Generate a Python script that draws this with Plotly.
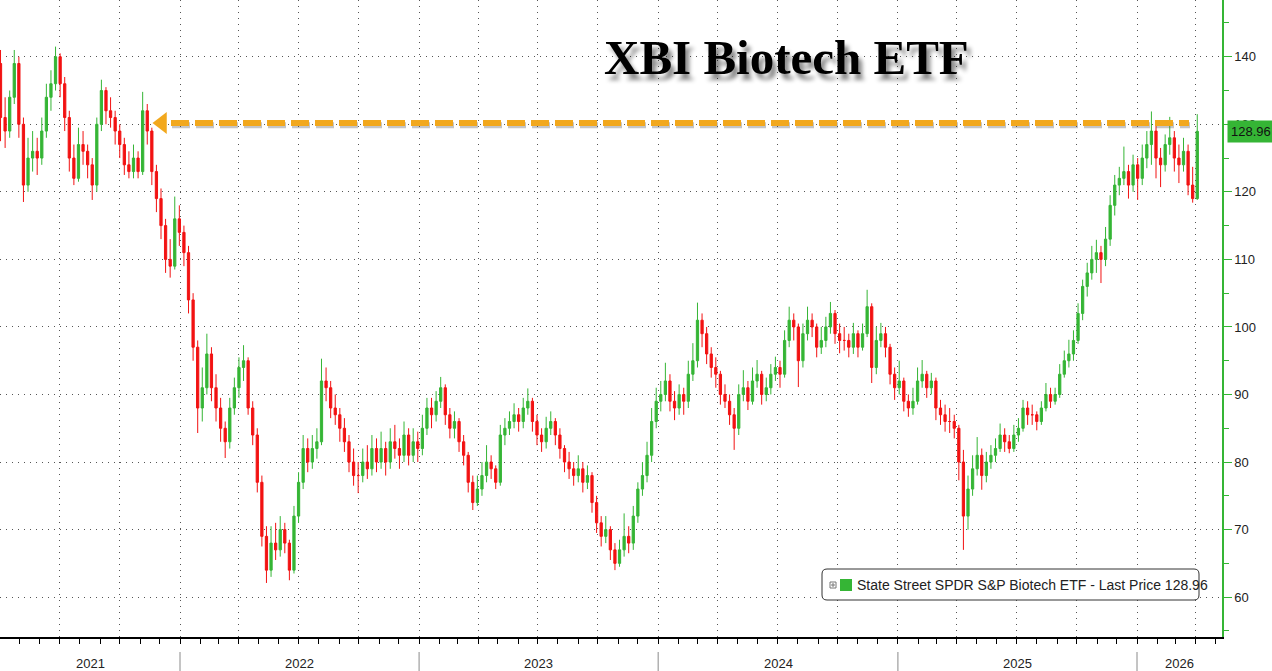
import pandas as pd
import plotly.graph_objects as go

# weekly OHLC (week bars from Apr 2021 to Apr 2026)
opens = [
    139, 131, 129, 134, 139, 130, 121, 125, 126, 125,
    129, 134, 136, 140, 136, 131, 125, 122, 127, 126,
    124, 121, 130, 135, 132, 131, 129, 127, 124, 123,
    125, 123, 132, 129, 123, 119, 115, 110, 109, 116,
    114, 111, 104, 97, 88, 91, 96, 91, 88, 85,
    83, 88, 91, 94, 95, 88, 84, 77, 69, 64,
    68, 67, 70, 68, 64, 72, 77, 82, 80, 82,
    83, 92, 91, 88, 87, 85, 83, 80, 78, 78,
    80, 79, 82, 80, 82, 80, 83, 82, 81, 84,
    81, 83, 82, 85, 88, 87, 89, 91, 87, 85,
    86, 83, 81, 77, 74, 76, 78, 80, 79, 77,
    84, 85, 86, 87, 86, 88, 89, 86, 84, 83,
    85, 86, 84, 82, 80, 79, 78, 79, 77, 78,
    74, 71, 69, 70, 67, 65, 67, 69, 68, 72,
    76, 78, 81, 86, 89, 90, 92, 89, 88, 90,
    89, 93, 95, 101, 99, 96, 94, 93, 90, 89,
    87, 85, 90, 91, 89, 92, 93, 90, 91, 93,
    94, 93, 98, 101, 100, 95, 99, 101, 100, 97,
    98, 100, 102, 99, 98, 98, 97, 99, 97, 99,
    103, 94, 98, 99, 97, 93, 91, 92, 89, 88,
    89, 92, 93, 91, 92, 88, 87, 86, 86, 85,
    80, 72, 76, 79, 81, 78, 80, 81, 82, 84,
    83, 82, 84, 85, 88, 87, 87, 86, 88, 90,
    89, 90, 93, 95, 96, 98, 102, 106, 108, 110,
    111, 110, 113, 118, 121, 122, 123, 121, 124, 122,
    125, 127, 129, 125, 124, 127, 128, 125, 124, 126,
    121, 119,
]
highs = [
    141, 134, 135, 141, 140, 131, 128, 129, 128, 131,
    136, 138, 141.5, 140.5, 137, 132, 127, 129.5, 129, 127,
    125, 131, 136.6, 135.5, 134, 132, 130, 128, 126, 127,
    126, 134.8, 133, 129.5, 124, 120.5, 116, 113, 119.3, 118,
    115, 112, 105, 98, 94, 99, 97, 93, 89.5, 86,
    89.5, 92.5, 95.5, 97.3, 95.5, 89, 85, 78, 70.5, 70.5,
    71, 72, 71, 68.5, 73.5, 78.5, 84, 83.5, 84, 85,
    95.3, 94, 92, 90, 88, 86.5, 84, 82, 80, 82,
    82.5, 84, 83.5, 84.5, 83, 85, 85.5, 83.5, 86, 85,
    85, 84.5, 87, 89.5, 89.5, 90.5, 92.6, 91.5, 88, 87.5,
    86.5, 84, 81.5, 78, 78, 80, 82.5, 81, 79.5, 85.5,
    86.5, 87.5, 88.7, 88, 89.5, 90.9, 89.5, 87, 85, 86.7,
    87.5, 86.5, 85, 82.5, 81.5, 80, 81, 80, 79.5, 78.5,
    75, 72, 72, 70.5, 68, 68.5, 72.4, 70.5, 73.5, 77,
    80, 83, 88, 91, 92, 94.7, 93, 90.5, 91.5, 91,
    95, 97.6, 103.6, 102, 100, 97, 95.5, 93.5, 91.5, 90,
    88, 91.5, 93.6, 92, 94, 95.1, 93.5, 92.5, 94.5, 95.6,
    95, 99.5, 103, 102, 100.5, 100.5, 103, 102, 100.5, 100,
    101.5, 103.7, 102.5, 100.5, 100, 99, 100.6, 99.5, 100.5, 105.5,
    103.5, 100, 100.6, 100, 97.5, 94, 95, 92.5, 90, 91,
    94, 95.1, 93.5, 93.2, 92.5, 89.2, 88.5, 88, 87, 85.5,
    81.8, 78, 81, 83.7, 82, 81.5, 82.5, 83.5, 85.7, 85,
    84, 85.5, 86.5, 89.2, 89, 88.5, 87.5, 89, 91.7, 91,
    91, 94.5, 96.5, 98.1, 99.5, 103.5, 107, 109.5, 112, 112.9,
    112, 114.8, 119.5, 122.5, 123.7, 126.7, 124, 125.5, 125, 127,
    129, 131.9, 130, 126.5, 128.5, 131.1, 129, 127, 128, 127,
    123.7, 131.5,
]
lows = [
    127.5, 126.5, 128, 133, 128, 118.5, 120, 123, 122.5, 124,
    128, 132, 135, 134, 129, 123, 121, 121.5, 124, 122,
    118.8, 120, 129, 130, 129.5, 127, 125, 122.5, 122, 122,
    122, 122.5, 127, 121, 117, 113, 108, 107.3, 108.5, 112,
    109, 102, 95, 84.3, 86, 90, 89, 86, 83, 80.6,
    82, 87, 89.5, 92, 87, 82.5, 75.5, 67.5, 62.1, 63,
    65.5, 66, 66.5, 62.5, 63.5, 71, 76, 78.5, 79, 80.5,
    82.5, 89, 86.5, 85.5, 83, 81.5, 78.5, 76.5, 75.4, 77,
    77.5, 78, 78.5, 79, 78, 79, 80.5, 79, 80, 79.5,
    80, 80, 81, 84, 85, 86, 88, 85.5, 83.5, 83.5,
    81.5, 79.5, 75.5, 72.9, 73.5, 75, 77, 77.5, 76, 76.5,
    82.5, 84, 85, 84.5, 85, 87, 84.5, 82.5, 81.5, 82,
    84, 82.5, 80.5, 78.5, 77.5, 76.5, 77, 75.5, 76, 72.5,
    69.5, 67.5, 68, 65.5, 64, 64.5, 66, 66.5, 67, 71,
    75, 77, 80, 85, 87.5, 89, 87.5, 86.2, 87, 87,
    88, 92, 94, 97, 94.5, 92.5, 91, 88.5, 88, 85.5,
    81.8, 84, 89, 87.7, 88.5, 91, 88.5, 89, 90, 92,
    91, 92.5, 97, 98, 91.1, 94, 98, 98.5, 95.5, 96,
    97, 99, 97.5, 96.1, 96.5, 95.5, 96, 95.5, 96.5, 98.5,
    91.7, 93, 97, 95.5, 91.5, 89.2, 90, 87.5, 86.7, 87,
    88.5, 91, 89.5, 90, 86.2, 85.5, 84.5, 84.3, 83.5, 77.3,
    67, 70, 75, 78, 75.9, 77, 79, 80, 81.5, 81.5,
    81.3, 81.5, 83, 84.5, 85.5, 85.5, 84.7, 85.5, 87.5, 88,
    88.5, 89.5, 92.5, 94, 95, 97.5, 101, 104.5, 107, 108,
    106.5, 109, 112, 116.5, 119.5, 121, 119, 120, 118.8, 121,
    123.5, 124, 122, 120.7, 123, 125.5, 123, 121.3, 123, 119.5,
    118.4, 118.8,
]
closes = [
    131, 129, 134, 139, 130, 121, 125, 126, 125, 129,
    134, 136, 140, 136, 131, 125, 122, 127, 126, 124,
    121, 130, 135, 132, 131, 129, 127, 124, 123, 125,
    123, 132, 129, 123, 119, 115, 110, 109, 116, 114,
    111, 104, 97, 88, 91, 96, 91, 88, 85, 83,
    88, 91, 94, 95, 88, 84, 77, 69, 64, 68,
    67, 70, 68, 64, 72, 77, 82, 80, 82, 83,
    92, 91, 88, 87, 85, 83, 80, 78, 78, 80,
    79, 82, 80, 82, 80, 83, 82, 81, 84, 81,
    83, 82, 85, 88, 87, 89, 91, 87, 85, 86,
    83, 81, 77, 74, 76, 78, 80, 79, 77, 84,
    85, 86, 87, 86, 88, 89, 86, 84, 83, 85,
    86, 84, 82, 80, 79, 78, 79, 77, 78, 74,
    71, 69, 70, 67, 65, 67, 69, 68, 72, 76,
    78, 81, 86, 89, 90, 92, 89, 88, 90, 89,
    93, 95, 101, 99, 96, 94, 93, 90, 89, 87,
    85, 90, 91, 89, 92, 93, 90, 91, 93, 94,
    93, 98, 101, 100, 95, 99, 101, 100, 97, 98,
    100, 102, 99, 98, 98, 97, 99, 97, 99, 103,
    94, 98, 99, 97, 93, 91, 92, 89, 88, 89,
    92, 93, 91, 92, 88, 87, 86, 86, 85, 80,
    72, 76, 79, 81, 78, 80, 81, 82, 84, 83,
    82, 84, 85, 88, 87, 87, 86, 88, 90, 89,
    90, 93, 95, 96, 98, 102, 106, 108, 110, 111,
    110, 113, 118, 121, 122, 123, 121, 124, 122, 125,
    127, 129, 125, 124, 127, 128, 125, 124, 126, 121,
    119, 128.96,
]
last_price = 128.96
prior_high = 130.2
yticks = [60, 70, 80, 90, 100, 110, 120, 130, 140]
years = ["2021", "2022", "2023", "2024", "2025", "2026"]

weeks = pd.date_range("2021-04-02", periods=len(closes), freq="7D")

GREEN = "#35b535"
RED = "#f21212"
ORANGE = "#f2a81d"

# plot area in pixels: 1222 x 637
PW, PH = 1222, 637


def px(x):
    return x / PW


def py(y):
    return 1 - y / PH


def xdate(x):
    # pixel column -> date (2022-01-01 sits at x=180, 239.25 px per year)
    return pd.Timestamp("2022-01-01") + pd.Timedelta(days=(x - 180) / 239.25 * 365.25)


x_start, x_end = xdate(0), xdate(PW)

fig = go.Figure()
fig.add_trace(go.Candlestick(
    x=weeks, open=opens, high=highs, low=lows, close=closes,
    increasing=dict(line=dict(color=GREEN, width=1), fillcolor=GREEN),
    decreasing=dict(line=dict(color=RED, width=1), fillcolor=RED),
    whiskerwidth=0,
    showlegend=False,
    hoverinfo="skip",
))

# little green triangles on the right axis
fig.add_trace(go.Scatter(
    x=[xdate(1226)] * len(yticks), y=yticks, mode="markers",
    marker=dict(symbol="triangle-right", size=8, color=GREEN),
    cliponaxis=False, showlegend=False, hoverinfo="skip",
))
# last price pointer
fig.add_trace(go.Scatter(
    x=[xdate(1227)], y=[last_price], mode="markers",
    marker=dict(symbol="triangle-left", size=19, color=GREEN),
    cliponaxis=False, showlegend=False, hoverinfo="skip",
))

# ─── dashed arrow at the old high ───
fig.add_shape(type="line", xref="x", yref="y",
              x0=xdate(172), x1=xdate(1190), y0=prior_high - 0.35, y1=prior_high - 0.35,
              line=dict(color="rgba(90,90,90,0.35)", width=6, dash="18px,6px"))
fig.add_shape(type="line", xref="x", yref="y",
              x0=xdate(171), x1=xdate(1189), y0=prior_high, y1=prior_high,
              line=dict(color=ORANGE, width=6, dash="18px,6px"))
fig.add_trace(go.Scatter(
    x=[xdate(162)], y=[prior_high], mode="markers",
    marker=dict(symbol="triangle-left", size=19, color=ORANGE),
    showlegend=False, hoverinfo="skip",
))

# ─── year separators + labels under the axis ───
for yr in years[1:]:
    fig.add_shape(type="line", xref="x", yref="paper",
                  x0=f"{yr}-01-01", x1=f"{yr}-01-01", y0=py(652), y1=py(673),
                  line=dict(color="#8a8a8a", width=1))
for yr in years:
    a = max(pd.Timestamp(f"{yr}-01-01"), x_start)
    b = min(pd.Timestamp(f"{int(yr) + 1}-01-01"), x_end)
    fig.add_annotation(x=a + (b - a) / 2, y=py(663), xref="x", yref="paper",
                       xanchor="center", yanchor="middle",
                       text=yr, showarrow=False,
                       font=dict(family="Liberation Sans", size=13, color="#222"))

# ─── title ───
fig.add_annotation(
    x=px(786), y=py(57), xref="paper", yref="paper", showarrow=False,
    xanchor="center", yanchor="middle",
    text="<b>XBI Biotech ETF</b>",
    font=dict(family="Liberation Serif", size=49, color="black",
              shadow="4px 6px 4px rgba(0,0,0,0.45)"),
)

# ─── last price label ───
fig.add_annotation(
    x=1, y=last_price, xref="paper", yref="y", xanchor="left", yanchor="middle",
    xshift=5, text="128.96", showarrow=False, bgcolor=GREEN, borderpad=3,
    font=dict(family="Liberation Sans", size=13, color="#111"),
)

# ─── legend box ───
x0, y0, x1, y1, r = 822, 569, 1199, 600, 5
box = (f"M {px(x0 + r)},{py(y0)} L {px(x1 - r)},{py(y0)} Q {px(x1)},{py(y0)} {px(x1)},{py(y0 + r)} "
       f"L {px(x1)},{py(y1 - r)} Q {px(x1)},{py(y1)} {px(x1 - r)},{py(y1)} "
       f"L {px(x0 + r)},{py(y1)} Q {px(x0)},{py(y1)} {px(x0)},{py(y1 - r)} "
       f"L {px(x0)},{py(y0 + r)} Q {px(x0)},{py(y0)} {px(x0 + r)},{py(y0)} Z")
fig.add_shape(type="path", path=box, xref="paper", yref="paper",
              fillcolor="white", line=dict(color="#333", width=1))
fig.add_shape(type="rect", xref="paper", yref="paper",
              x0=px(830), x1=px(836), y0=py(588), y1=py(582),
              line=dict(color="#777", width=1), fillcolor="white")
fig.add_shape(type="line", xref="paper", yref="paper",
              x0=px(831), x1=px(835), y0=py(585), y1=py(585),
              line=dict(color="#777", width=1))
fig.add_shape(type="line", xref="paper", yref="paper",
              x0=px(833), x1=px(833), y0=py(583), y1=py(587),
              line=dict(color="#777", width=1))
fig.add_shape(type="rect", xref="paper", yref="paper",
              x0=px(840), x1=px(852), y0=py(591), y1=py(579),
              line=dict(width=0), fillcolor=GREEN)
fig.add_annotation(
    x=px(855), y=py(585), xref="paper", yref="paper",
    xanchor="left", yanchor="middle",
    text=f"State Street SPDR S&P Biotech ETF - Last Price {last_price}",
    showarrow=False, font=dict(family="Liberation Sans", size=14, color="#222"),
)

fig.update_layout(
    width=1272, height=671,
    margin=dict(l=0, r=50, t=0, b=34),
    paper_bgcolor="white", plot_bgcolor="white",
    showlegend=False,
    xaxis=dict(
        type="date", range=[x_start, x_end],
        rangeslider=dict(visible=False),
        showticklabels=False,
        dtick="M3", tick0="2021-01-01",
        ticks="outside", ticklen=5, tickcolor="black",
        showgrid=True, gridcolor="#555", griddash="1px,5px", gridwidth=1,
        minor=dict(dtick="M1", tick0="2021-01-01", ticks="outside",
                   ticklen=5, tickcolor="black", showgrid=False),
        showline=True, linecolor="black", linewidth=1.5,
        zeroline=False,
    ),
    yaxis=dict(
        side="right", range=[54.1, 148.4],
        tickvals=yticks,
        ticks="outside", ticklen=8, tickcolor=GREEN,
        tickfont=dict(family="Liberation Sans", size=13, color="#222"),
        showgrid=True, gridcolor="#555", griddash="1px,5px", gridwidth=1,
        minor=dict(dtick=5, tick0=0, ticks="outside", ticklen=5,
                   tickcolor=GREEN, showgrid=False),
        showline=True, linecolor=GREEN, linewidth=1.5,
        zeroline=False,
    ),
)

# page body has a default 8px margin; drop it so the figure sits at the window corner
fig.write_html("out.html", config={"displayModeBar": False},
               post_script="document.body.style.margin='0';")
